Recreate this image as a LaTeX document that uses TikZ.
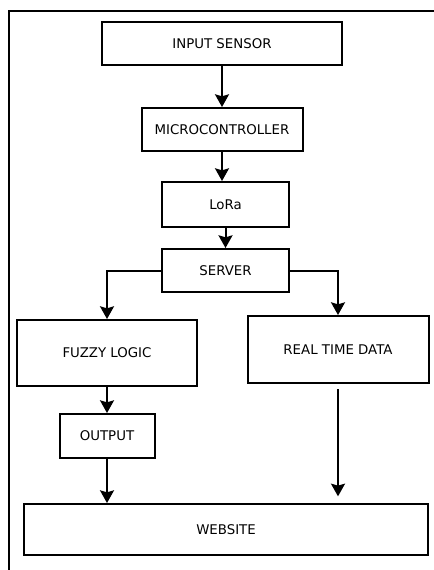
\documentclass[tikz,border=0pt]{standalone}
\usepackage{fontspec}
\setmainfont{DejaVu Sans}
\usetikzlibrary{arrows.meta}

\begin{document}
\begin{tikzpicture}[x=0.75pt,y=-0.75pt]
\tikzstyle{block}=[draw, line width=1.5pt, inner sep=0pt, font=\fontsize{10}{12}\selectfont]
\tikzstyle{arrow}=[line width=1.5pt, -{Stealth[length=9.5pt,width=10.5pt,inset=1.5pt]}]
\useasboundingbox (0,0) rectangle (433,570);
\draw[line width=1.5pt] (8.5,580) -- (8.5,11) -- (440,11);

\node[block, minimum width=180pt, minimum height=32.25pt] (insensor) at (222,43.5) {INPUT SENSOR};
\node[block, minimum width=120.75pt, minimum height=32.25pt] (micro) at (222,129.5) {MICROCONTROLLER};
\node[block, minimum width=95.25pt, minimum height=33.75pt] (lora) at (225.5,204.5) {LoRa};
\node[block, minimum width=95.25pt, minimum height=32.25pt] (server) at (225.5,270.5) {SERVER};
\node[block, minimum width=135pt, minimum height=49.5pt] (fuzzy) at (107,353) {FUZZY LOGIC};
\node[block, minimum width=135.75pt, minimum height=50.25pt] (realtime) at (338,349.5) {REAL TIME DATA};
\node[block, minimum width=71.25pt, minimum height=33pt] (output) at (107,436) {OUTPUT};
\node[block, minimum width=303pt, minimum height=38.25pt] (website) at (226,529.5) {WEBSITE};

\draw[arrow] (insensor) -- (micro);
\draw[arrow] (micro.south) -- (micro.south |- lora.north);
\draw[arrow] (lora) -- (server);
\draw[arrow] (server.west) -| (fuzzy.north);
\draw[arrow] (server.east) -| (realtime.north);
\draw[arrow] (fuzzy) -- (output);
\draw[arrow] (output.south) -- (output.south |- website.north);
\draw[arrow, shorten <=4pt, shorten >=5pt] (realtime.south) -- (realtime.south |- website.north);

\end{tikzpicture}
\end{document}
